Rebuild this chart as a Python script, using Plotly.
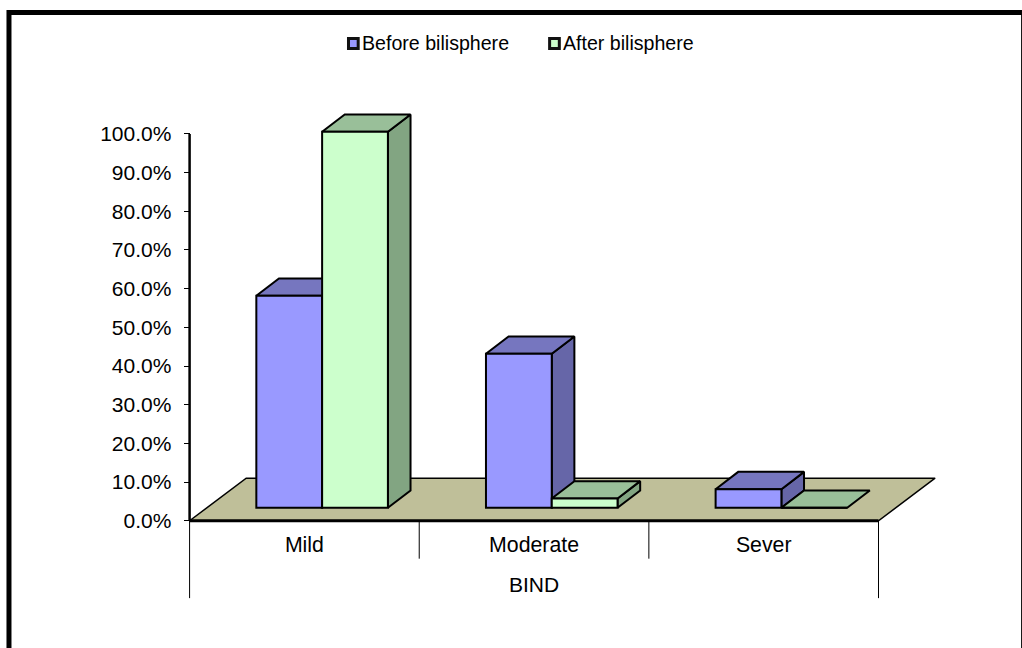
import plotly.graph_objects as go

# Chart data: percentage of cases in each BIND grade
categories = ["Mild", "Moderate", "Sever"]
group_label = "BIND"
before_name = "Before bilisphere"
after_name = "After bilisphere"
before_values = [54.8, 39.8, 4.8]
after_values = [97.2, 2.4, 0.0]
y_ticks = list(range(0, 101, 10))

# Page geometry and axis scales; the plot area is wider than the 0-3 / 0-100
# axes so that the oblique faces and the lower label rows have room to draw
W, H = 1022, 648
AXIS_PX_X, AXIS_PX_Y = 190.0, 520.7
PX_PER_CAT, PX_PER_PCT = 229.5, 3.867
X_MIN, X_MAX = -0.02, 3.32
Y_MIN, Y_MAX = -21.0, 108.0
PLOT_L = AXIS_PX_X + X_MIN * PX_PER_CAT
PLOT_R = AXIS_PX_X + X_MAX * PX_PER_CAT
PLOT_T = AXIS_PX_Y - Y_MAX * PX_PER_PCT
PLOT_B = AXIS_PX_Y - Y_MIN * PX_PER_PCT


def paper_x(px):
    return (px - PLOT_L) / (PLOT_R - PLOT_L)


def paper_y(py):
    return (PLOT_B - py) / (PLOT_B - PLOT_T)


# Oblique projection used for the pseudo-3D look, in axis units
FLOOR_DX, FLOOR_DY = 0.2465, 11.0
BAR_BASE = 3.36
BAR_SHIFT = 0.2906
BAR_WIDTH = 0.2865
DEPTH_DX, DEPTH_DY = 0.0985, 4.48

BEFORE = dict(front="#9999FF", top="#7676BF", side="#6666A8")
AFTER = dict(front="#CCFFCC", top="#99BF99", side="#82A582")
FLOOR = "#BFBF99"
EDGE = dict(color="#000000", width=2)


def poly(x, y, fill, axes="", line=EDGE):
    return go.Scatter(
        x=x + x[:1], y=y + y[:1], mode="lines", fill="toself", fillcolor=fill,
        line=line, showlegend=False, hoverinfo="skip",
        xaxis="x" + axes, yaxis="y" + axes,
    )


def depth_faces(value, left, colors, axes):
    """Top and right-hand faces of one bar."""
    right = left + BAR_WIDTH
    low, high = BAR_BASE, BAR_BASE + value
    faces = []
    if value > 0:
        faces.append(poly(
            [right, right + DEPTH_DX, right + DEPTH_DX, right],
            [low, low + DEPTH_DY, high + DEPTH_DY, high],
            colors["side"], axes,
        ))
    faces.append(poly(
        [left, right, right + DEPTH_DX, left + DEPTH_DX],
        [high, high, high + DEPTH_DY, high + DEPTH_DY],
        colors["top"], axes,
    ))
    return faces


def rule(x, y, width, color="#000000"):
    return go.Scatter(x=x, y=y, mode="lines", showlegend=False, hoverinfo="skip",
                      line=dict(color=color, width=width))


fig = go.Figure()
n = len(categories)

# Floor of the chart
fig.add_trace(poly([0, n, n + FLOOR_DX, FLOOR_DX], [0, 0, FLOOR_DY, FLOOR_DY], FLOOR,
                   line=dict(color="#000000", width=1.5)))

# Category separators, with the outer ones reaching down past the group label
sep_x, sep_y = [], []
for i in range(n + 1):
    sep_x += [i, i, None]
    sep_y += [0, -20.0 if i in (0, n) else -9.8, None]
fig.add_trace(rule(sep_x, sep_y, 1))

# Axis lines, limited to the extent of each axis
fig.add_trace(rule([0, 0], [0, 100], 2.5))
fig.add_trace(rule([0, n], [0, 0], 3))

# Each series sits on its own overlaid axes so its faces stack in drawing order
for i, v in enumerate(before_values):
    for face in depth_faces(v, i + BAR_SHIFT, BEFORE, ""):
        fig.add_trace(face)
fig.add_trace(go.Bar(
    x=[i + BAR_SHIFT + BAR_WIDTH / 2 for i in range(n)], y=before_values, base=BAR_BASE,
    width=BAR_WIDTH, name=before_name, marker=dict(color=BEFORE["front"], line=EDGE),
    showlegend=False, xaxis="x2", yaxis="y2",
))
for i, v in enumerate(after_values):
    for face in depth_faces(v, i + BAR_SHIFT + BAR_WIDTH, AFTER, "2"):
        fig.add_trace(face)
fig.add_trace(go.Bar(
    x=[i + BAR_SHIFT + 1.5 * BAR_WIDTH for i in range(n)], y=after_values, base=BAR_BASE,
    width=BAR_WIDTH, name=after_name, marker=dict(color=AFTER["front"], line=EDGE),
    showlegend=False, xaxis="x3", yaxis="y3",
))

FONT = "Liberation Sans, Arial, sans-serif"
overlay_x = dict(range=[X_MIN, X_MAX], overlaying="x", visible=False, showgrid=False,
                 zeroline=False, fixedrange=True)
overlay_y = dict(range=[Y_MIN, Y_MAX], overlaying="y", visible=False, showgrid=False,
                 zeroline=False, fixedrange=True)

# Outer frame, whose right and bottom sides run off the page
shapes = [dict(type="rect", xref="paper", yref="paper",
               x0=paper_x(9.5), x1=paper_x(1023.5), y0=paper_y(660), y1=paper_y(12.5),
               line=dict(color="#000000", width=5), fillcolor="rgba(0,0,0,0)", layer="below")]

# Legend swatches and labels
annotations = []
for name, colors, x0, text_px in [(before_name, BEFORE, 348.8, 360.0), (after_name, AFTER, 549.8, 561.5)]:
    shapes.append(dict(type="rect", xref="paper", yref="paper",
                       x0=paper_x(x0), x1=paper_x(x0 + 9.7), y0=paper_y(48.5), y1=paper_y(38.5),
                       line=dict(color="#111111", width=3), fillcolor=colors["front"]))
    annotations.append(dict(text=name, xref="paper", yref="paper", x=paper_x(text_px),
                            y=paper_y(43.5), xanchor="left", yanchor="middle", showarrow=False,
                            font=dict(family=FONT, size=19.6, color="#000000")))

# Group label under the category row
annotations.append(dict(text=group_label, x=n / 2, y=-16.4, xref="x", yref="y", showarrow=False,
                        xanchor="center", yanchor="middle",
                        font=dict(family=FONT, size=21, color="#000000")))

fig.update_layout(
    width=W, height=H, autosize=False, showlegend=False,
    paper_bgcolor="#FFFFFF", plot_bgcolor="rgba(0,0,0,0)",
    margin=dict(l=PLOT_L, r=W - PLOT_R, t=PLOT_T, b=H - PLOT_B, pad=0, autoexpand=False),
    barmode="overlay", shapes=shapes, annotations=annotations,
    font=dict(family=FONT, size=21, color="#000000"),
    xaxis=dict(
        range=[X_MIN, X_MAX], tickmode="array", tickvals=[i + 0.5 for i in range(n)],
        ticktext=categories, ticks="", showgrid=False, zeroline=False, showline=False,
        anchor="free", position=-Y_MIN / (Y_MAX - Y_MIN), ticklabelstandoff=9, fixedrange=True,
        tickfont=dict(family=FONT, size=21.3, color="#000000"),
    ),
    yaxis=dict(
        range=[Y_MIN, Y_MAX], tickmode="array", tickvals=y_ticks,
        ticktext=[f"{t:.1f}%" for t in y_ticks], ticks="outside", ticklen=6, tickwidth=1,
        tickcolor="#000000", showgrid=False, zeroline=False, showline=False,
        anchor="free", position=-X_MIN / (X_MAX - X_MIN), ticklabelstandoff=8, fixedrange=True,
        tickfont=dict(family=FONT, size=21, color="#000000"),
    ),
    xaxis2=overlay_x, yaxis2=overlay_y, xaxis3=overlay_x, yaxis3=overlay_y,
)

fig.write_html("out.html")
